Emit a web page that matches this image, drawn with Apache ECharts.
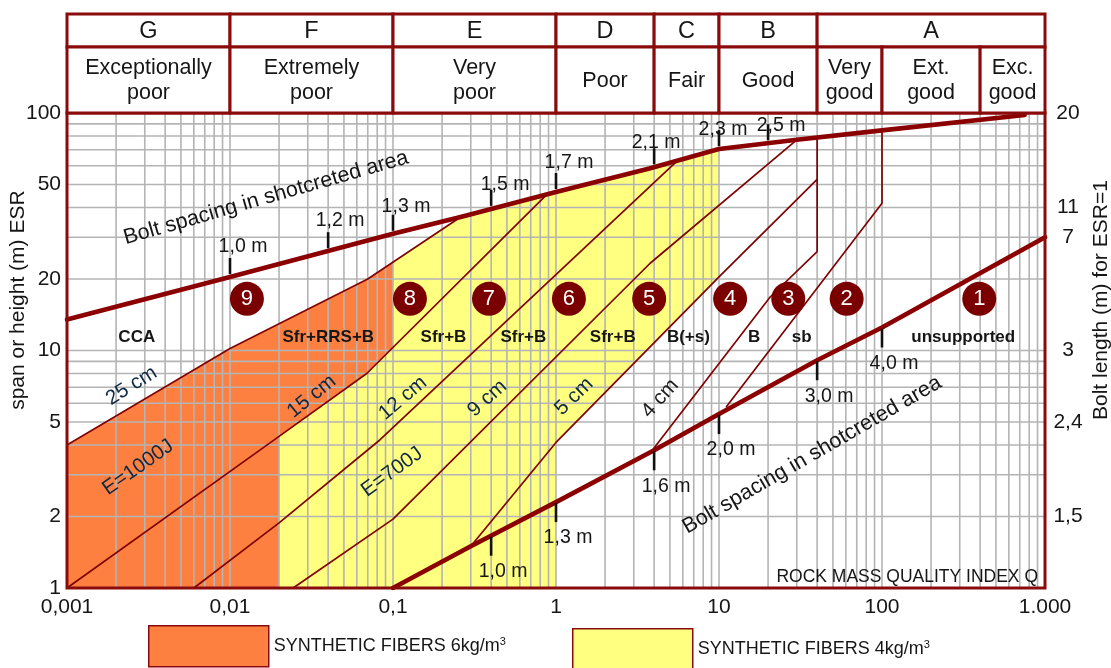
<!DOCTYPE html>
<html>
<head>
<meta charset="utf-8">
<script src="https://cdn.jsdelivr.net/npm/echarts@6/dist/echarts.min.js"></script>
<style>
  html, body { margin: 0; padding: 0; background: #ffffff; }
  #chart { width: 1111px; height: 668px; }
</style>
</head>
<body>
<div id="chart"></div>
<script>
// Q-system rock support chart: rock mass quality Q (log) against span / ESR (log)

// ---- axes ----
const xTickValues = [0.001, 0.01, 0.1, 1, 10, 100, 1000];
const xTickLabels = ['0,001', '0,01', '0,1', '1', '10', '100', '1.000'];
const spanTickValues = [1, 2, 5, 10, 20, 50, 100];
const spanTickLabels = ['1', '2', '5', '10', '20', '50', '100'];
const boltLengthSpans = [2, 5, 10, 30, 40, 100];
const boltLengthLabels = ['1,5', '2,4', '3', '7', '11', '20'];
const axisTitles = ['span or height (m) ESR', 'Bolt length (m) for ESR=1'];
const axisTitleQ = [0.001, 1000];
const axisTitleSpan = 16.3;

// ---- header classes ----
const classLetters = ['G', 'F', 'E', 'D', 'C', 'B', 'A'];
const classBounds = [[0.001, 0.01], [0.01, 0.1], [0.1, 1], [1, 4], [4, 10], [10, 40], [40, 1000]];
const qualityNames = ['Exceptionally\npoor', 'Extremely\npoor', 'Very\npoor', 'Poor', 'Fair', 'Good', 'Very\ngood', 'Ext.\ngood', 'Exc.\ngood'];
const qualityBounds = [[0.001, 0.01], [0.01, 0.1], [0.1, 1], [1, 4], [4, 10], [10, 40], [40, 100], [100, 400], [400, 1000]];

// ---- bolt spacing lines [Q, span/ESR] ----
const upperBoltLine = [[0.001, 13.5], [0.01, 20.4], [0.1, 31], [0.26, 36.5], [1, 46.5], [3.74, 58.4], [10, 70.5], [30, 77.1], [100, 84.5], [750, 98]];
const lowerBoltLine = [[0.1, 1], [0.3, 1.5], [1, 2.3], [4, 3.8], [10, 5.4], [40, 9.1], [100, 12.5], [1000, 30]];

// ---- support class boundaries [Q, span/ESR] ----
const line25cm = [[0.001, 4.0], [0.01, 10.2], [0.07, 20], [0.26, 36.5]];
const line15cm = [[0.001, 1], [0.02, 4.35], [0.069, 8.0], [0.88, 45.4]];
const line12cm = [[0.006, 1], [0.02, 1.88], [0.083, 4.2], [5.5, 62.5]];
const line9cm = [[0.0244, 1], [0.1, 1.95], [3.78, 23.3], [30, 77.1]];
const line5cm = [[0.3, 1.5], [1, 4.1], [10, 20.4], [40, 52.5]];
const line4cm = [[3.9, 3.8], [20.6, 16.8], [40, 26.1], [40, 78.8]];
const lineSpot = [[11.1, 5.8], [100, 41.7], [100, 84.5]];

// ---- fibre-reinforced shotcrete areas ----
const fibers6Area = [[0.001, 1], [0.02, 1], [0.02, 4.35], [0.069, 8.0], [0.1, 10.26], [0.1, 23.5], [0.07, 20], [0.01, 10.2], [0.001, 4.0]];
const fibers4Area = [[0.02, 1], [1, 1], [1, 4.1], [10, 20.4], [10, 70.5], [3.74, 58.4], [1, 46.5], [0.26, 36.5], [0.1, 23.5], [0.1, 10.26], [0.069, 8.0], [0.02, 4.35]];

// ---- bolt spacing marks along the lines ----
const upperSpacingQ = [0.01, 0.04, 0.1, 0.4, 1, 4, 10, 20];
const upperSpacingSpan = [20.4, 26.2, 31, 39.5, 46.5, 59.1, 70.5, 74.6];
const upperSpacingLabels = ['1,0 m', '1,2 m', '1,3 m', '1,5 m', '1,7 m', '2,1 m', '2,3 m', '2,5 m'];
const lowerSpacingQ = [0.4, 1, 4, 10, 40, 100];
const lowerSpacingSpan = [1.66, 2.3, 3.8, 5.4, 9.1, 12.5];
const lowerSpacingLabels = ['1,0 m', '1,3 m', '1,6 m', '2,0 m', '3,0 m', '4,0 m'];

// ---- support categories ----
const zoneNumbers = ['9', '8', '7', '6', '5', '4', '3', '2', '1'];
const zoneNumberQ = [0.0127, 0.127, 0.388, 1.2, 3.73, 11.7, 26.6, 60.7, 395];
const zoneNumberSpan = 16.5;
const zoneCodes = ['CCA', 'Sfr+RRS+B', 'Sfr+B', 'Sfr+B', 'Sfr+B', 'B(+s)', 'B', 'sb', 'unsupported'];
const zoneCodeQ = [0.00268, 0.0401, 0.204, 0.63, 2.23, 6.49, 16.4, 32.2, 315];
const zoneCodeSpan = 11.4;

// ---- boundary captions ----
const lineCaptions = ['25 cm', 'E=1000J', '15 cm', 'E=700J', '12 cm', '9 cm', '5 cm', '4 cm'];
const lineCaptionQ = [0.00249, 0.00273, 0.0317, 0.0986, 0.115, 0.379, 1.29, 4.35];
const lineCaptionSpan = [7.1, 3.22, 6.4, 3.08, 6.3, 6.28, 6.4, 6.28];
const spacingCaptions = ['Bolt spacing in shotcreted area', 'Bolt spacing in shotcreted area'];
const spacingCaptionQ = [0.01664, 37.2];
const spacingCaptionSpan = [43.9, 3.63];

// ---- styling ----
const FONT = "'Liberation Sans', Arial, Helvetica, sans-serif";
const FRAME_RED = '#8a0b0b';
const LINE_RED = '#800404';
const ORANGE = '#fe8041';
const YELLOW = '#ffff80';
const GRID_GREY = '#b4b4b4';
const TEXT = '#161616';
const CAPTION_BLUE = '#0f2945';
const lineCaptionAngle = [32, 35, 39, 36, 40, 42, 44, 48];
const lineCaptionColor = [CAPTION_BLUE, CAPTION_BLUE, CAPTION_BLUE, CAPTION_BLUE, CAPTION_BLUE, CAPTION_BLUE, CAPTION_BLUE, '#1e1e1e'];
const spacingCaptionAngle = [16, 30];
const upperLabelOffset = [[13, -30], [12, -31], [13, -27], [14, -24], [13, -29], [2, -25], [4, -19], [13, -18]];
const lowerLabelOffset = [12, 36];
const axisTitleOffset = [-49, 56];

// minor log grid: 1..9 of every decade
const xGrid = [];
for (let e = -3; e <= 2; e++) for (let k = 1; k <= 9; k++) xGrid.push(k * Math.pow(10, e));
xGrid.push(1000);
const yGrid = [];
for (let e = 0; e <= 1; e++) for (let k = 1; k <= 9; k++) yGrid.push(k * Math.pow(10, e));
yGrid.push(100);

const headerCells = [];
classLetters.forEach((t, i) => headerCells.push({ q: classBounds[i], y0: 2, y1: 3, text: t, size: 23.5 }));
qualityNames.forEach((t, i) => headerCells.push({ q: qualityBounds[i], y0: 0, y1: 2, text: t, size: 21.5 }));

const chart = echarts.init(document.getElementById('chart'), null, { renderer: 'canvas' });

function plotSeries(extra) {
  return Object.assign({ xAxisIndex: 0, yAxisIndex: 0, silent: true, animation: false }, extra);
}

function boundary(name, pts, width, color, z) {
  return plotSeries({
    type: 'line', name: name, data: pts, symbol: 'none', z: z,
    lineStyle: { color: color, width: width, join: 'round', cap: 'round' }
  });
}

function area(name, pts, color) {
  return plotSeries({
    type: 'custom', name: name, z: 1, itemStyle: { color: color },
    data: [[1, 10]], encode: { x: 0, y: 1 },
    renderItem: (params, api) => ({
      type: 'polygon',
      shape: { points: pts.map(p => api.coord(p)) },
      style: { fill: color }
    })
  });
}

function textSeries(name, qs, spans, makeStyle, z) {
  return plotSeries({
    type: 'custom', name: name, z: z || 6,
    data: qs.map((q, i) => [q, Array.isArray(spans) ? spans[i] : spans, i]),
    encode: { x: 0, y: 1 },
    renderItem: (params, api) => {
      const i = api.value(2);
      const c = api.coord([api.value(0), api.value(1)]);
      return makeStyle(i, c);
    }
  });
}

function gridSeries(name, values, vertical) {
  return plotSeries({
    type: 'custom', name: name, z: 2,
    data: values.map(v => vertical ? [v, 10] : [1, v]),
    encode: { x: 0, y: 1 },
    renderItem: (params, api) => {
      const a = vertical ? api.coord([api.value(0), 1]) : api.coord([0.001, api.value(1)]);
      const b = vertical ? api.coord([api.value(0), 100]) : api.coord([1000, api.value(1)]);
      return { type: 'line', shape: { x1: a[0], y1: a[1], x2: b[0], y2: b[1] }, style: { stroke: GRID_GREY, lineWidth: 1.6 } };
    }
  });
}

function spacingMarks(name, qs, spans, labels, above) {
  return textSeries(name, qs, spans, (i, c) => {
    const off = above ? upperLabelOffset[i] : lowerLabelOffset;
    const y1 = above ? c[1] - 3 : c[1] + 1;
    const y2 = above ? c[1] - 19 : c[1] + 20;
    return {
      type: 'group', children: [
        { type: 'line', shape: { x1: c[0], y1: y1, x2: c[0], y2: y2 }, style: { stroke: '#111', lineWidth: 2.6 } },
        { type: 'text', x: c[0] + off[0], y: c[1] + off[1],
          style: { text: labels[i], fill: TEXT, fontSize: 19.5, fontFamily: FONT, align: 'center', verticalAlign: 'middle' } }
      ]
    };
  }, 5);
}

const series = [
  area('SYNTHETIC FIBERS 6kg/m3', fibers6Area, ORANGE),
  area('SYNTHETIC FIBERS 4kg/m3', fibers4Area, YELLOW),
  gridSeries('grid-q', xGrid, true),
  gridSeries('grid-span', yGrid, false),
  boundary('25 cm', line25cm, 1.7, LINE_RED, 3),
  boundary('15 cm', line15cm, 1.7, LINE_RED, 3),
  boundary('12 cm', line12cm, 1.7, LINE_RED, 3),
  boundary('9 cm', line9cm, 1.7, LINE_RED, 3),
  boundary('5 cm', line5cm, 1.7, LINE_RED, 3),
  boundary('4 cm', line4cm, 1.7, LINE_RED, 3),
  boundary('sb', lineSpot, 1.7, LINE_RED, 3),
  boundary('bolt spacing upper', upperBoltLine, 4.6, '#8b0000', 4),
  boundary('bolt spacing lower', lowerBoltLine, 4.6, '#8b0000', 4),
  spacingMarks('upper spacing', upperSpacingQ, upperSpacingSpan, upperSpacingLabels, true),
  spacingMarks('lower spacing', lowerSpacingQ, lowerSpacingSpan, lowerSpacingLabels, false),
  plotSeries({
    type: 'scatter', name: 'zones', z: 6,
    data: zoneNumberQ.map((q, i) => [q, zoneNumberSpan, i]),
    symbol: 'circle', symbolSize: 34,
    itemStyle: { color: '#7a0000', opacity: 1 },
    label: { show: true, position: 'inside', formatter: p => zoneNumbers[p.data[2]], color: '#ffffff', fontSize: 22, fontFamily: FONT }
  }),
  textSeries('zone codes', zoneCodeQ, zoneCodeSpan, (i, c) => ({
    type: 'text', x: c[0], y: c[1],
    style: { text: zoneCodes[i], fill: TEXT, fontSize: 17, fontWeight: 'bold', fontFamily: FONT, align: 'center', verticalAlign: 'middle' }
  })),
  textSeries('line captions', lineCaptionQ, lineCaptionSpan, (i, c) => ({
    type: 'text', x: c[0], y: c[1], rotation: lineCaptionAngle[i] * Math.PI / 180,
    style: { text: lineCaptions[i], fill: lineCaptionColor[i], fontSize: 20.5, fontFamily: FONT, align: 'center', verticalAlign: 'middle' }
  })),
  textSeries('spacing captions', spacingCaptionQ, spacingCaptionSpan, (i, c) => ({
    type: 'text', x: c[0], y: c[1], rotation: spacingCaptionAngle[i] * Math.PI / 180,
    style: { text: spacingCaptions[i], fill: TEXT, fontSize: 21.5, fontFamily: FONT, align: 'center', verticalAlign: 'middle' }
  })),
  textSeries('x title', [1000], 1, (i, c) => ({
    type: 'text', x: c[0] - 7, y: c[1] - 11,
    style: { text: 'ROCK MASS QUALITY INDEX Q', fill: TEXT, fontSize: 17.5, fontFamily: FONT, align: 'right', verticalAlign: 'middle' }
  })),
  textSeries('span labels', spanTickValues.map(() => 0.001), spanTickValues, (i, c) => ({
    type: 'text', x: c[0] - 6, y: c[1],
    style: { text: spanTickLabels[i], fill: TEXT, fontSize: 21, fontFamily: FONT, align: 'right', verticalAlign: 'middle' }
  })),
  textSeries('bolt length labels', boltLengthSpans.map(() => 1000), boltLengthSpans, (i, c) => ({
    type: 'text', x: c[0] + 23, y: c[1],
    style: { text: boltLengthLabels[i], fill: TEXT, fontSize: 21, fontFamily: FONT, align: 'center', verticalAlign: 'middle' }
  })),
  textSeries('axis titles', axisTitleQ, axisTitleSpan, (i, c) => ({
    type: 'text', x: c[0] + axisTitleOffset[i], y: c[1], rotation: Math.PI / 2,
    style: { text: axisTitles[i], fill: TEXT, fontSize: 21, fontFamily: FONT, align: 'center', verticalAlign: 'middle' }
  })),
  plotSeries({
    type: 'custom', name: 'frame', z: 8, data: [[1, 10]], encode: { x: 0, y: 1 },
    renderItem: (params, api) => {
      const a = api.coord([0.001, 100]);
      const b = api.coord([1000, 1]);
      return { type: 'rect', shape: { x: a[0], y: a[1], width: b[0] - a[0], height: b[1] - a[1] },
               style: { fill: 'transparent', stroke: FRAME_RED, lineWidth: 3 } };
    }
  }),
  {
    type: 'custom', name: 'header', xAxisIndex: 1, yAxisIndex: 1, silent: true, animation: false, z: 8,
    data: headerCells.map((c, i) => [c.q[0], c.q[1], c.y0, c.y1, i]),
    encode: { x: [0, 1], y: [2, 3] },
    renderItem: (params, api) => {
      const cell = headerCells[api.value(4)];
      const a = api.coord([api.value(0), api.value(3)]);
      const b = api.coord([api.value(1), api.value(2)]);
      return {
        type: 'group', children: [
          { type: 'rect', shape: { x: a[0], y: a[1], width: b[0] - a[0], height: b[1] - a[1] },
            style: { fill: '#ffffff', stroke: FRAME_RED, lineWidth: 3 } },
          { type: 'text', x: (a[0] + b[0]) / 2, y: (a[1] + b[1]) / 2 + 1,
            style: { text: cell.text, fill: TEXT, fontSize: cell.size, fontFamily: FONT, align: 'center', verticalAlign: 'middle', lineHeight: 25 } }
        ]
      };
    }
  }
];

function xLabel(v) {
  const idx = xTickValues.findIndex(t => Math.abs(Math.log10(t) - Math.log10(v)) < 1e-6);
  return idx >= 0 ? xTickLabels[idx] : '';
}

const legendText = {
  color: TEXT, fontSize: 18, fontFamily: FONT,
  rich: { sup: { fontSize: 11, fontFamily: FONT, color: TEXT, padding: [0, 0, 9, 0] } }
};
const legendCommon = {
  orient: 'horizontal', padding: 0, itemWidth: 120, itemHeight: 41, icon: 'rect', selectedMode: false,
  itemStyle: { borderColor: FRAME_RED, borderWidth: 1.5 },
  textStyle: legendText,
  formatter: name => name.replace(/3$/, '{sup|3}')
};

chart.setOption({
  animation: false,
  backgroundColor: '#ffffff',
  textStyle: { fontFamily: FONT },
  legend: [
    Object.assign({ data: ['SYNTHETIC FIBERS 6kg/m3'], left: 148, top: 625 }, legendCommon),
    Object.assign({ data: ['SYNTHETIC FIBERS 4kg/m3'], left: 572, top: 628 }, legendCommon)
  ],
  grid: [
    { left: 67, top: 113, width: 978, height: 475, outerBoundsMode: 'none', containLabel: false },
    { left: 67, top: 14, width: 978, height: 99, outerBoundsMode: 'none', containLabel: false }
  ],
  xAxis: [
    {
      type: 'log', logBase: 10, gridIndex: 0, min: 0.001, max: 1000, splitNumber: 6,
      axisLine: { show: false }, axisTick: { show: false }, splitLine: { show: false },
      axisLabel: { formatter: xLabel, color: TEXT, fontSize: 21, fontFamily: FONT, margin: 9 }
    },
    { type: 'log', logBase: 10, gridIndex: 1, min: 0.001, max: 1000, show: false }
  ],
  yAxis: [
    {
      type: 'log', logBase: 10, gridIndex: 0, min: 1, max: 100, position: 'left',
      axisLine: { show: false }, axisTick: { show: false }, splitLine: { show: false }, axisLabel: { show: false }
    },
    { type: 'value', gridIndex: 1, min: 0, max: 3, show: false }
  ],
  series: series
});
</script>
</body>
</html>
